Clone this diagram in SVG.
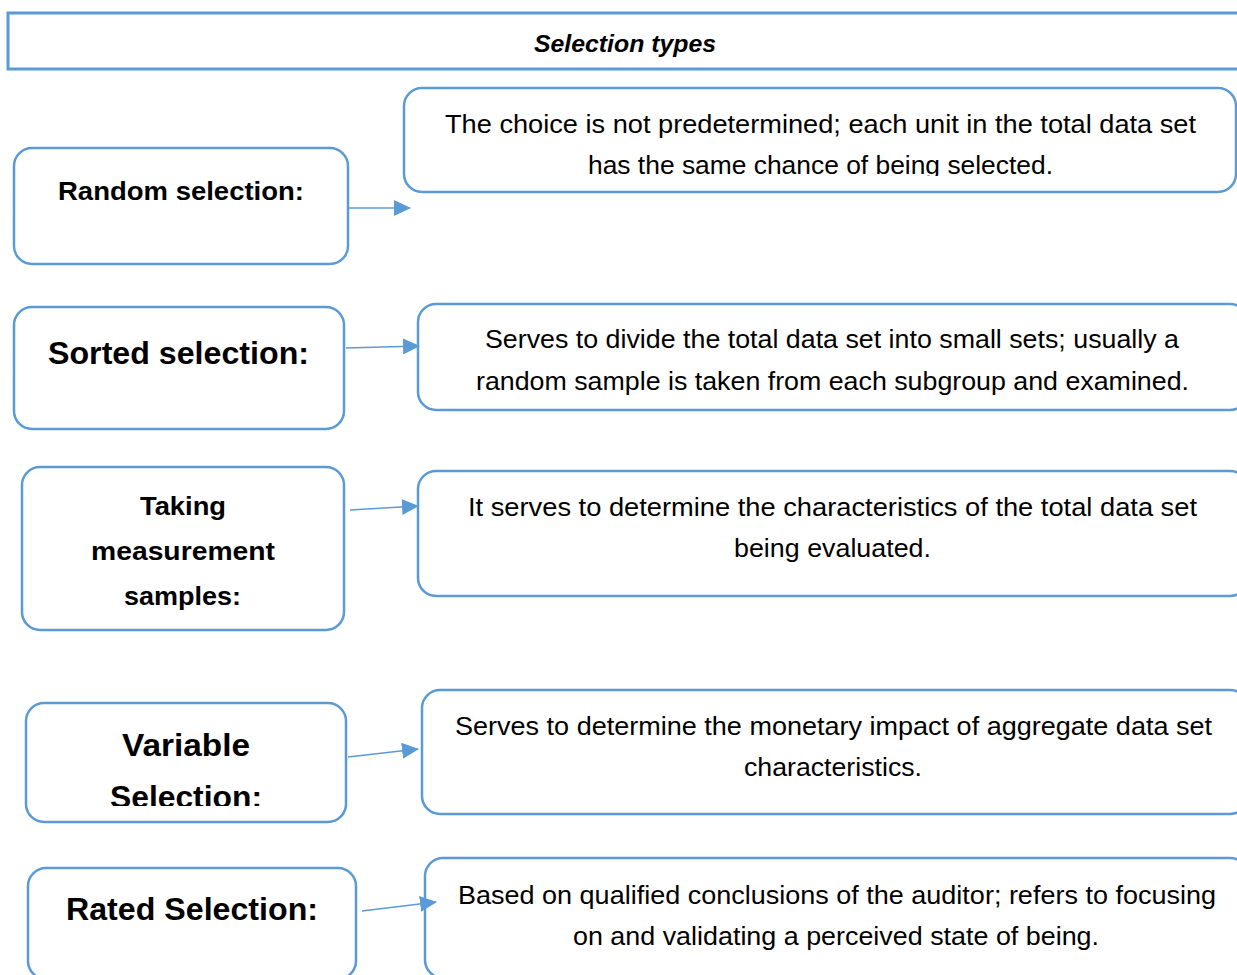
<svg xmlns="http://www.w3.org/2000/svg" width="1237" height="975" viewBox="0 0 1237 975">
<style>
.box{fill:#fff;stroke:#5B9BD5;stroke-width:2.5}
.t{font-family:"Liberation Sans",Arial,sans-serif;font-size:25px;fill:#000}
.b{font-family:"Liberation Sans",Arial,sans-serif;font-weight:bold;fill:#000}
.c{stroke:#5B9BD5;stroke-width:1.5;fill:none}
</style>
<defs>
<marker id="ah" markerUnits="userSpaceOnUse" markerWidth="18" markerHeight="16" refX="16" refY="8" orient="auto">
<path d="M0,0 L17,8 L0,16 Z" fill="#5B9BD5"/>
</marker>
<clipPath id="clip1"><rect x="404" y="88" width="840" height="88"/></clipPath>
<clipPath id="clip4"><rect x="26" y="703" width="320" height="103"/></clipPath>
</defs>
<rect width="1237" height="975" fill="#fff"/>
<g id="header">
<rect x="8" y="13" width="1240" height="56" fill="#fff" stroke="#5B9BD5" stroke-width="3"/>
<text class="b" x="534" y="52" font-size="24" font-style="italic" textLength="182" lengthAdjust="spacingAndGlyphs">Selection types</text>
</g>
<g id="n1">
<rect class="box" x="14" y="148" width="334" height="116" rx="18"/>
<text class="b" x="58" y="200" font-size="26" textLength="246" lengthAdjust="spacingAndGlyphs">Random selection:</text>
</g>
<g id="d1">
<rect class="box" x="404" y="88" width="832" height="104" rx="18"/>
<g clip-path="url(#clip1)">
<text class="t" x="445" y="133" textLength="751" lengthAdjust="spacingAndGlyphs">The choice is not predetermined; each unit in the total data set</text>
<text class="t" x="588" y="174" textLength="465" lengthAdjust="spacingAndGlyphs">has the same chance of being selected.</text>
</g>
</g>
<g id="n2">
<rect class="box" x="14" y="307" width="330" height="122" rx="18"/>
<text class="b" x="48" y="364" font-size="32" textLength="261" lengthAdjust="spacingAndGlyphs">Sorted selection:</text>
</g>
<g id="d2">
<rect class="box" x="418" y="304" width="830" height="106" rx="18"/>
<text class="t" x="485" y="348" textLength="694" lengthAdjust="spacingAndGlyphs">Serves to divide the total data set into small sets; usually a</text>
<text class="t" x="476" y="390" textLength="713" lengthAdjust="spacingAndGlyphs">random sample is taken from each subgroup and examined.</text>
</g>
<g id="n3">
<rect class="box" x="22" y="467" width="322" height="163" rx="18"/>
<text class="b" x="140" y="515" font-size="26" textLength="86" lengthAdjust="spacingAndGlyphs">Taking</text>
<text class="b" x="91" y="560" font-size="26" textLength="184" lengthAdjust="spacingAndGlyphs">measurement</text>
<text class="b" x="124" y="605" font-size="26" textLength="117" lengthAdjust="spacingAndGlyphs">samples:</text>
</g>
<g id="d3">
<rect class="box" x="418" y="471" width="830" height="125" rx="18"/>
<text class="t" x="468" y="516" textLength="729" lengthAdjust="spacingAndGlyphs">It serves to determine the characteristics of the total data set</text>
<text class="t" x="734" y="557" textLength="197" lengthAdjust="spacingAndGlyphs">being evaluated.</text>
</g>
<g id="n4">
<rect class="box" x="26" y="703" width="320" height="119" rx="18"/>
<g clip-path="url(#clip4)">
<text class="b" x="122" y="756" font-size="32" textLength="128" lengthAdjust="spacingAndGlyphs">Variable</text>
<text class="b" x="110" y="808" font-size="32" textLength="152" lengthAdjust="spacingAndGlyphs">Selection:</text>
</g>
</g>
<g id="d4">
<rect class="box" x="422" y="690" width="826" height="124" rx="18"/>
<text class="t" x="455" y="735" textLength="757" lengthAdjust="spacingAndGlyphs">Serves to determine the monetary impact of aggregate data set</text>
<text class="t" x="744" y="776" textLength="178" lengthAdjust="spacingAndGlyphs">characteristics.</text>
</g>
<g id="n5">
<rect class="box" x="28" y="868" width="328" height="111" rx="18"/>
<text class="b" x="66" y="920" font-size="32" textLength="252" lengthAdjust="spacingAndGlyphs">Rated Selection:</text>
</g>
<g id="d5">
<rect class="box" x="425" y="858" width="823" height="120" rx="18"/>
<text class="t" x="458" y="904" textLength="758" lengthAdjust="spacingAndGlyphs">Based on qualified conclusions of the auditor; refers to focusing</text>
<text class="t" x="573" y="945" textLength="526" lengthAdjust="spacingAndGlyphs">on and validating a perceived state of being.</text>
</g>
<g id="connectors">
<line class="c" x1="348" y1="208" x2="410" y2="208" marker-end="url(#ah)"/>
<line class="c" x1="346" y1="348" x2="419" y2="346" marker-end="url(#ah)"/>
<line class="c" x1="350" y1="510" x2="418" y2="506" marker-end="url(#ah)"/>
<line class="c" x1="348" y1="757" x2="418" y2="749" marker-end="url(#ah)"/>
<line class="c" x1="362" y1="911" x2="436" y2="902" marker-end="url(#ah)"/>
</g>
</svg>
